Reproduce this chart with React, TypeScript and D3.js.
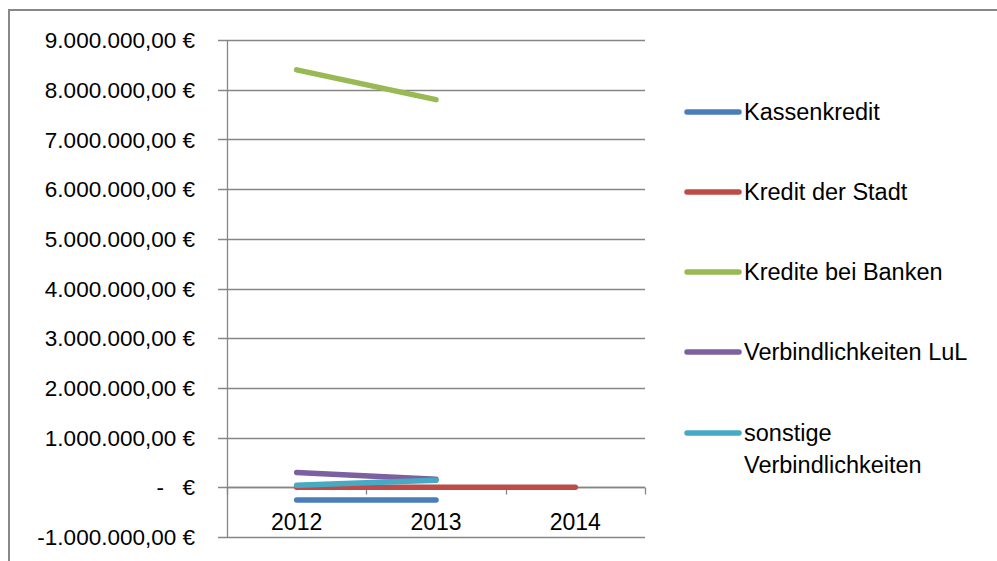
import { useEffect, useRef } from 'react';
import * as d3 from 'd3';

const years = ['2012', '2013', '2014'];
const yTicks = [-1000000, 0, 1000000, 2000000, 3000000, 4000000, 5000000, 6000000, 7000000, 8000000, 9000000];

const kassenkredit = [-255000, -255000, null];
const kreditStadt = [0, 0, 0];
const krediteBanken = [8400000, 7800000, null];
const verbindlichkeitenLuL = [300000, 160000, null];
const sonstigeVerbindlichkeiten = [40000, 140000, null];

const series = [
  { name: ['Kassenkredit'], color: '#4a7ebb', values: kassenkredit },
  { name: ['Kredit der Stadt'], color: '#be4b48', values: kreditStadt },
  { name: ['Kredite bei Banken'], color: '#98b954', values: krediteBanken },
  { name: ['Verbindlichkeiten LuL'], color: '#7d60a0', values: verbindlichkeitenLuL },
  { name: ['sonstige', 'Verbindlichkeiten'], color: '#46aac5', values: sonstigeVerbindlichkeiten },
];

const fmt = (v: number) => {
  if (v === 0) return null;
  const s = Math.abs(v).toFixed(0).replace(/\B(?=(\d{3})+(?!\d))/g, '.');
  return (v < 0 ? '-' : '') + s + ',00 €';
};

const App = () => {
  const svgRef = useRef<SVGSVGElement>(null);

  useEffect(() => {
    const width = 997;
    const height = 561;
    const plot = { left: 227, right: 645, top: 40, bottom: 537 };
    const font = 'Liberation Sans, Arial, sans-serif';

    const svg = d3.select(svgRef.current)
      .attr('width', width)
      .attr('height', height);
    svg.selectAll('*').remove();

    // chart border
    svg.append('rect')
      .attr('x', 9)
      .attr('y', 10)
      .attr('width', 1000)
      .attr('height', 600)
      .attr('fill', 'white')
      .attr('stroke', '#888')
      .attr('stroke-width', 2);

    const x = d3.scaleBand<string>()
      .domain(years)
      .range([plot.left, plot.right]);

    const y = d3.scaleLinear()
      .domain([-1000000, 9000000])
      .range([plot.bottom, plot.top]);

    // gridlines + y ticks
    svg.selectAll('.grid')
      .data(yTicks)
      .enter().append('line')
      .attr('class', 'grid')
      .attr('x1', plot.left - 9)
      .attr('x2', plot.right)
      .attr('y1', d => Math.round(y(d)) + 0.5)
      .attr('y2', d => Math.round(y(d)) + 0.5)
      .attr('stroke', '#868686')
      .attr('stroke-width', 1.3);

    // y axis line
    svg.append('line')
      .attr('x1', plot.left + 0.5)
      .attr('x2', plot.left + 0.5)
      .attr('y1', plot.top)
      .attr('y2', plot.bottom)
      .attr('stroke', '#868686')
      .attr('stroke-width', 1.3);

    // y tick labels
    const labels = svg.append('g')
      .attr('font-family', font)
      .attr('font-size', 22.5)
      .attr('fill', 'black');

    yTicks.forEach(t => {
      const text = fmt(t);
      if (text) {
        labels.append('text')
          .attr('x', 195)
          .attr('y', y(t))
          .attr('dy', '0.36em')
          .attr('text-anchor', 'end')
          .text(text);
      } else {
        labels.append('text')
          .attr('x', 195)
          .attr('y', y(t))
          .attr('dy', '0.36em')
          .attr('text-anchor', 'end')
          .text('€');
        labels.append('text')
          .attr('x', 164)
          .attr('y', y(t))
          .attr('dy', '0.36em')
          .attr('text-anchor', 'end')
          .text('-');
      }
    });

    // x axis at zero
    const y0 = Math.round(y(0)) + 0.5;
    svg.append('line')
      .attr('x1', plot.left)
      .attr('x2', plot.right)
      .attr('y1', y0)
      .attr('y2', y0)
      .attr('stroke', '#868686')
      .attr('stroke-width', 1.3);

    const catTicks = [...years.map(d => x(d) as number), plot.right];
    svg.selectAll('.xtick')
      .data(catTicks)
      .enter().append('line')
      .attr('class', 'xtick')
      .attr('x1', d => Math.round(d) + 0.5)
      .attr('x2', d => Math.round(d) + 0.5)
      .attr('y1', y0)
      .attr('y2', y0 + 7)
      .attr('stroke', '#868686')
      .attr('stroke-width', 1.3);

    svg.selectAll('.xlabel')
      .data(years)
      .enter().append('text')
      .attr('class', 'xlabel')
      .attr('x', d => (x(d) as number) + x.bandwidth() / 2)
      .attr('y', 530)
      .attr('text-anchor', 'middle')
      .attr('font-family', font)
      .attr('font-size', 23)
      .text(d => d);

    // series lines
    const line = d3.line<number | null>()
      .defined(d => d !== null)
      .x((_, i) => (x(years[i]) as number) + x.bandwidth() / 2)
      .y(d => y(d as number));

    svg.selectAll('.series')
      .data(series)
      .enter().append('path')
      .attr('class', 'series')
      .attr('fill', 'none')
      .attr('stroke', d => d.color)
      .attr('stroke-width', 5.5)
      .attr('stroke-linecap', 'round')
      .attr('stroke-linejoin', 'round')
      .attr('d', d => line(d.values));

    // legend
    const legendY = [112, 192, 272, 352, 433];
    const legend = svg.selectAll('.legend')
      .data(series)
      .enter().append('g')
      .attr('class', 'legend')
      .attr('transform', (_, i) => `translate(0, ${legendY[i]})`);

    legend.append('line')
      .attr('x1', 687)
      .attr('x2', 739)
      .attr('stroke', d => d.color)
      .attr('stroke-width', 5.5)
      .attr('stroke-linecap', 'round');

    legend.append('text')
      .attr('x', 744)
      .attr('font-family', font)
      .attr('font-size', 23.5)
      .attr('fill', 'black')
      .selectAll('tspan')
      .data(d => d.name)
      .enter().append('tspan')
      .attr('x', 744)
      .attr('y', (_, i) => i * 32)
      .attr('dy', '0.36em')
      .text(d => d);
  }, []);

  return (
    <div style={{ position: 'absolute', left: 0, top: 0 }}>
      <svg ref={svgRef} style={{ display: 'block' }} />
    </div>
  );
};

export default App;
